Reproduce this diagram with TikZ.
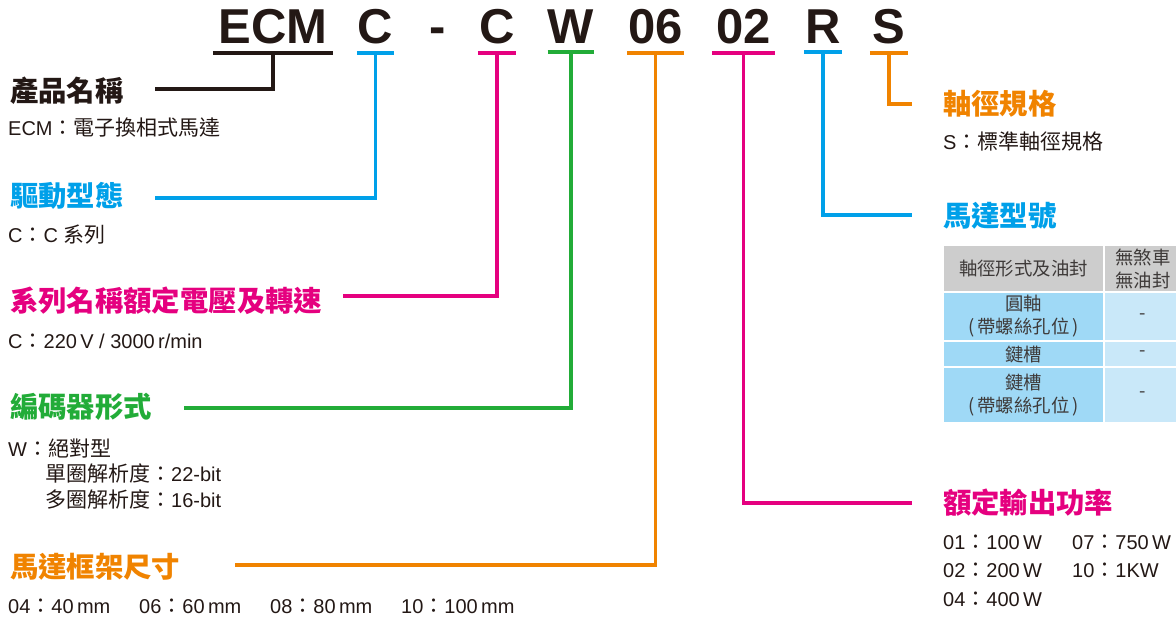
\documentclass[tikz,border=0pt]{standalone}
\usepackage{fontspec}
\setmainfont{Liberation Sans}
\newfontfamily\cjk{Noto Sans CJK TC}[Scale=1.05]
\usetikzlibrary{positioning}

\definecolor{ink}{RGB}{35,24,21}
\definecolor{tabink}{RGB}{62,58,57}
\definecolor{cOrange}{RGB}{240,131,0}
\definecolor{cBlue}{RGB}{0,160,233}
\definecolor{cMagenta}{RGB}{229,0,127}
\definecolor{cGreen}{RGB}{34,172,56}
\definecolor{hdGray}{RGB}{205,205,205}
\definecolor{rowBlue}{RGB}{159,217,246}
\definecolor{rowPale}{RGB}{201,232,249}

\newcommand{\zh}[1]{{\cjk #1}}

\tikzstyle{codebox}=[anchor=base, inner xsep=0, inner ysep=8.5, text=ink, font=\fontsize{49}{49}\selectfont\bfseries]
\tikzstyle{headtxt}=[anchor=west, inner sep=0, font=\cjk\bfseries\fontsize{27}{30}\selectfont]
\tikzstyle{subtxt}=[anchor=west, inner sep=0, text=ink, font=\fontsize{20}{24}\selectfont]
\tikzstyle{uline}=[line width=4]
\tikzstyle{link}=[line width=3.6]
\tikzstyle{tcell}=[draw=white, line width=2, inner sep=0, text=tabink, align=center, font=\fontsize{17.5}{23}\selectfont\cjk]

\begin{document}
\begin{tikzpicture}[x=1pt, y=-1pt]
      \useasboundingbox (0,0) rectangle (1176,618);

      % model code
      \node[codebox, minimum width=120] (cProd) at (273, 43.5) {ECM};
      \node[codebox, minimum width=37] (cDrive) at (375.5, 43.5) {C};
      \node[codebox] (cDash) at (438, 43.5) {-};
      \node[codebox, minimum width=38] (cSer) at (497, 43.5) {C};
      \node[codebox, minimum width=38] (cEnc) at (571, 43.5) {W};
      \node[codebox, minimum width=57] (cFrame) at (655.5, 43.5) {06};
      \node[codebox, minimum width=63] (cPow) at (743.5, 43.5) {02};
      \node[codebox, minimum width=38] (cType) at (823, 43.5) {R};
      \node[codebox, minimum width=38] (cShaft) at (889, 43.5) {S};

      \draw[uline, ink] (cProd.south west) -- (cProd.south east);
      \draw[uline, cBlue] (cDrive.south west) -- (cDrive.south east);
      \draw[uline, cMagenta] (cSer.south west) -- (cSer.south east);
      \draw[uline, cGreen] (cEnc.south west) -- (cEnc.south east);
      \draw[uline, cOrange] (cFrame.south west) -- (cFrame.south east);
      \draw[uline, cMagenta] (cPow.south west) -- (cPow.south east);
      \draw[uline, cBlue] (cType.south west) -- (cType.south east);
      \draw[uline, cOrange] (cShaft.south west) -- (cShaft.south east);

      % left side
      \node[headtxt, text=ink] (hdProd) at (10, 90.5) {產品名稱};
      \node[subtxt] (sbProd) at (8, 128) {ECM\zh{：電子換相式馬達}};
      \node[headtxt, text=cBlue] (hdDrive) at (10, 195.5) {驅動型態};
      \node[subtxt] (sbDrive) at (8, 235) {C\zh{：}C \zh{系列}};
      \node[headtxt, text=cMagenta] (hdSer) at (10, 301) {系列名稱額定電壓及轉速};
      \node[subtxt] (sbSer) at (8, 341) {C\zh{：}220\,V / 3000\,r/min};
      \node[headtxt, text=cGreen] (hdEnc) at (10, 407) {編碼器形式};
      \node[subtxt] (sbEnc) at (8, 449) {W\zh{：絕對型}};
      \node[subtxt] (sbEncA) at (45, 473) {\zh{單圈解析度：}22-bit};
      \node[subtxt] (sbEncB) at (45, 499) {\zh{多圈解析度：}16-bit};
      \node[headtxt, text=cOrange] (hdFrame) at (10, 567) {馬達框架尺寸};
      \node[subtxt] (sbFrame) at (8, 606) {\makebox[131pt][l]{04\zh{：}40\,mm}\makebox[131pt][l]{06\zh{：}60\,mm}\makebox[131pt][l]{08\zh{：}80\,mm}10\zh{：}100\,mm};

      % right side
      \node[headtxt, text=cOrange] (hdShaft) at (943, 103.5) {軸徑規格};
      \node[subtxt] (sbShaft) at (943, 141) {S\zh{：標準軸徑規格}};
      \node[headtxt, text=cBlue] (hdType) at (943, 215.5) {馬達型號};
      \node[headtxt, text=cMagenta] (hdPow) at (943, 503) {額定輸出功率};
      \node[subtxt] (pwA) at (943, 542) {\makebox[129pt][l]{01\zh{：}100\,W}07\zh{：}750\,W};
      \node[subtxt] (pwB) at (943, 570.5) {\makebox[129pt][l]{02\zh{：}200\,W}10\zh{：}1KW};
      \node[subtxt] (pwC) at (943, 599) {04\zh{：}400\,W};

      % shaft table
      \node[tcell, fill=hdGray, minimum width=161, minimum height=47] (th1) at (1023.5, 268.5) {軸徑形式及油封};
      \node[tcell, fill=hdGray, minimum width=78, minimum height=47] (th2) at (1143, 268.5) {無煞車\\無油封};
      \node[tcell, fill=rowBlue, minimum width=161, minimum height=49] (ra1) at (1023.5, 316.5) {圓軸\\(\,帶螺絲孔位\,)};
      \node[tcell, fill=rowPale, minimum width=78, minimum height=49] (ra2) at (1143, 316.5) {-};
      \node[tcell, fill=rowBlue, minimum width=161, minimum height=26] (rb1) at (1023.5, 354) {鍵槽};
      \node[tcell, fill=rowPale, minimum width=78, minimum height=26] (rb2) at (1143, 354) {-};
      \node[tcell, fill=rowBlue, minimum width=161, minimum height=56] (rc1) at (1023.5, 395) {鍵槽\\(\,帶螺絲孔位\,)};
      \node[tcell, fill=rowPale, minimum width=78, minimum height=56] (rc2) at (1143, 395) {-};

      % connectors
      \coordinate (lkProd) at (155, 89);
      \coordinate (lkDrive) at (155, 198);
      \coordinate (lkSer) at (343, 296);
      \coordinate (lkEnc) at (184, 408);
      \coordinate (lkFrame) at (235, 565);
      \coordinate (lkShaft) at (912, 104);
      \coordinate (lkType) at (912, 215);
      \coordinate (lkPow) at (912, 503);

      \draw[link, ink] (lkProd) -| (cProd.south);
      \draw[link, cBlue] (lkDrive) -| (cDrive.south);
      \draw[link, cMagenta] (lkSer) -| (cSer.south);
      \draw[link, cGreen] (lkEnc) -| (cEnc.south);
      \draw[link, cOrange] (lkFrame) -| (cFrame.south);
      \draw[link, cOrange] (cShaft.south) |- (lkShaft);
      \draw[link, cBlue] (cType.south) |- (lkType);
      \draw[link, cMagenta] (cPow.south) |- (lkPow);
    \end{tikzpicture}
\end{document}
